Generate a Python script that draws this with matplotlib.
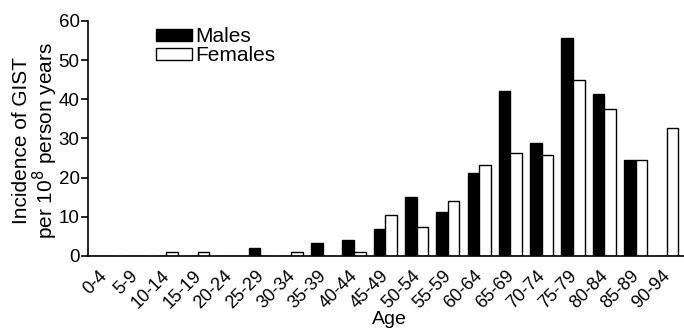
import numpy as np
import matplotlib.pyplot as plt
from matplotlib.patches import Patch
from matplotlib.transforms import ScaledTranslation

plt.rcParams['font.family'] = ['Liberation Sans', 'DejaVu Sans']

# Age groups and GIST incidence per 10^6 person years
age_groups = ["0-4", "5-9", "10-14", "15-19", "20-24", "25-29", "30-34", "35-39",
              "40-44", "45-49", "50-54", "55-59", "60-64", "65-69", "70-74",
              "75-79", "80-84", "85-89", "90-94"]
males = [0, 0, 0, 0, 0, 2.0, 0, 3.2, 4.1, 6.8, 15.0, 11.2, 21.3, 42.2, 28.9,
         55.7, 41.4, 24.5, 0]
females = [0, 0, 1.0, 1.0, 0, 0, 1.0, 0, 1.0, 10.5, 7.5, 14.0, 23.3, 26.4, 25.8,
           44.9, 37.5, 24.5, 32.6]

x = np.arange(len(age_groups))
w = 0.37

fig = plt.figure(figsize=(6.84, 3.31), dpi=100)
ax = fig.add_axes([0.1287, 0.2266, 0.8713, 0.71])

ax.bar(x - w / 2, males, w, color="black", edgecolor="black", linewidth=1)
ax.bar(x + w / 2, females, w, color="white", edgecolor="black", linewidth=1)

ax.set_xlim(-0.5, 18.55)
ax.set_ylim(0, 60)
ax.set_yticks([0, 10, 20, 30, 40, 50, 60])
ax.set_xticks(x)
ax.set_xticklabels(age_groups, rotation=45, ha="right", rotation_mode="anchor",
                   fontsize=13)
ax.tick_params(axis="x", length=0, pad=8)
ax.tick_params(axis="y", labelsize=13.5, length=5, width=1.2, pad=1)

# nudge the rotated labels a little to the left of each group
shift = ScaledTranslation(-0.05, 0, fig.dpi_scale_trans)
for lbl in ax.get_xticklabels():
    lbl.set_transform(lbl.get_transform() + shift)

for side in ["top", "right"]:
    ax.spines[side].set_visible(False)
ax.spines["left"].set_linewidth(1.2)
ax.spines["bottom"].set_linewidth(1.2)

ax.set_ylabel("Incidence of GIST\nper 10$^{8}$ person years", fontsize=15,
              linespacing=1.0)
ax.yaxis.set_label_coords(-0.047, 0.49)
ax.set_xlabel("Age", fontsize=14)
ax.xaxis.set_label_coords(0.505, -0.236)

handles = [Patch(facecolor="black", edgecolor="black", label="Males"),
           Patch(facecolor="white", edgecolor="black", label="Females")]
ax.legend(handles=handles, loc="upper left", bbox_to_anchor=(0.09, 1.035),
          frameon=False, fontsize=15, handlelength=1.73, handleheight=0.5,
          handletextpad=0.15, labelspacing=0.0, borderpad=0.2)

fig.savefig("out.png", dpi=100)
